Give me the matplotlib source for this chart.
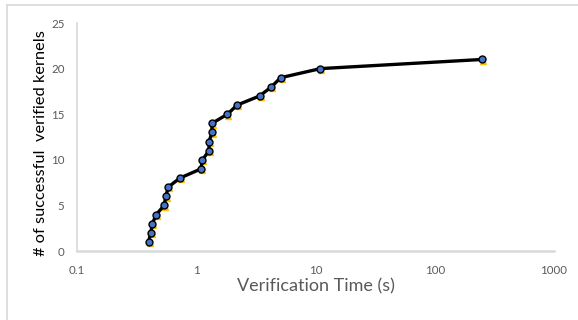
import matplotlib.pyplot as plt
from matplotlib.lines import Line2D
import matplotlib.transforms as mtransforms

# Verification time (s) for each successfully verified kernel, sorted
times = [0.398, 0.416, 0.428, 0.463, 0.537, 0.557, 0.581, 0.730, 1.094, 1.127,
         1.280, 1.280, 1.356, 1.356, 1.828, 2.20, 3.40, 4.27, 5.10, 11.0, 248]
counts = list(range(1, len(times) + 1))

xticks = [0.1, 1, 10, 100, 1000]
xtick_labels = ['0.1', '1', '10', '100', '1000']
yticks = [0, 5, 10, 15, 20, 25]

plt.rcParams['font.family'] = ['Lato', 'DejaVu Sans']

fig = plt.figure(figsize=(5.78, 3.2), dpi=100)
ax = fig.add_axes([77 / 578, 1 - 251 / 320, (554 - 77) / 578, (251 - 23) / 320])

# chart border (Excel style)
border = '#d9d9d9'
fig.add_artist(Line2D([7 / 578, 7 / 578], [0, 1 - 5 / 320], color=border, lw=1.2))
fig.add_artist(Line2D([7 / 578, 1], [1 - 5 / 320, 1 - 5 / 320], color=border, lw=1.2))

# orange triangles peeking out below the circles
shift = mtransforms.ScaledTranslation(1.0 / 100, -1.3 / 100, fig.dpi_scale_trans)
ax.plot(times, counts, linestyle='none', marker='^', markersize=5,
        color='#ffc000', transform=ax.transData + shift, zorder=2)
ax.plot(times, counts, color='black', lw=2.4, zorder=3)
ax.plot(times, counts, linestyle='none', marker='o', markersize=5,
        markerfacecolor='#4472c4', markeredgecolor='black', markeredgewidth=1.0, zorder=4)

ax.set_xscale('log')
ax.set_xlim(0.1, 1000)
ax.set_ylim(0, 25)
ax.set_xticks(xticks)
ax.set_xticklabels(xtick_labels)
ax.set_yticks(yticks)
ax.minorticks_off()
ax.tick_params(axis='both', length=0, labelsize=8.3, labelcolor='#595959')
ax.tick_params(axis='x', pad=10)
ax.tick_params(axis='y', pad=9)

for s in ['top', 'right']:
    ax.spines[s].set_visible(False)
ax.spines['left'].set_color('#d9d9d9')
ax.spines['bottom'].set_color('#d9d9d9')
ax.spines['left'].set_linewidth(1.2)
ax.spines['bottom'].set_linewidth(1.8)

ax.set_xlabel('Verification Time (s)', fontsize=13, color='#595959', labelpad=2)
ax.set_ylabel('# of successful  verified kernels', fontsize=11.8, color='black')
ax.yaxis.set_label_coords(-0.06, 0.474)

fig.savefig('out.png', dpi=100)
